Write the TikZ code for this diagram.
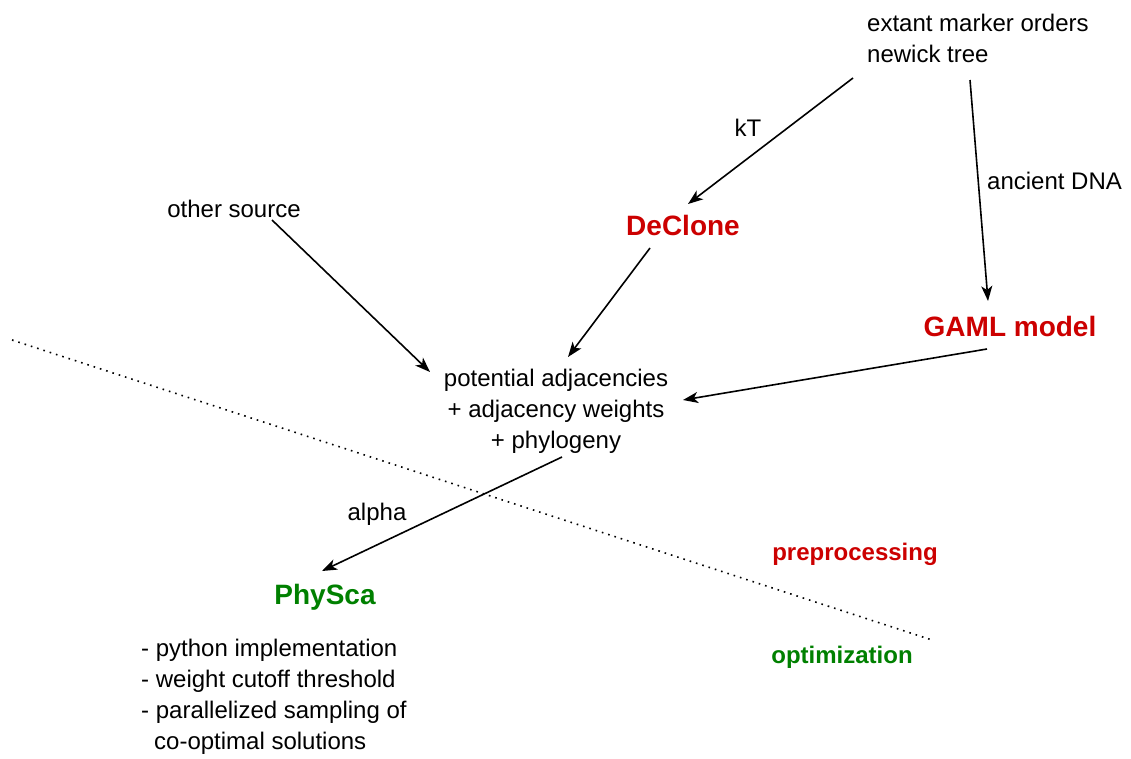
\documentclass[tikz,border=0pt]{standalone}
\usepackage{fontspec}
\setmainfont{Liberation Sans}
\usetikzlibrary{arrows.meta}
\definecolor{tred}{RGB}{204,0,0}
\definecolor{tgreen}{RGB}{0,128,0}
\begin{document}
\begin{tikzpicture}[x=1pt,y=-1pt,
  txt/.style={inner sep=0pt, font=\fontsize{24}{31}\selectfont},
  tool/.style={inner sep=0pt, font=\fontsize{28}{34}\selectfont\bfseries},
  phase/.style={inner sep=0pt, font=\fontsize{24}{30}\selectfont\bfseries},
  flow/.style={line width=1.6pt, -{Stealth[length=15pt,width=11pt,inset=4pt]}}]
\useasboundingbox (0,0) rectangle (1131,758);

% boundary between the two phases
\draw[line width=1.6pt, dash pattern=on 1.6pt off 5pt] (12,340) -- (932,640);

% input data
\node[txt, anchor=west, align=left] (input) at (867,38)
  {extant marker orders\\newick tree};
\node[txt] (other) at (234,209) {other source};

% preprocessing tools
\node[tool, text=tred] (declone) at (683,225) {DeClone};
\node[tool, text=tred] (gaml) at (1010,326) {GAML model};

% intermediate data
\node[txt, align=center] (adj) at (556,411)
  {potential adjacencies\\+ adjacency weights\\+ phylogeny};

% optimization tool
\node[tool, text=tgreen] (physca) at (325,597) {PhySca};
\node[txt, anchor=north west, align=left] (feat) at (141,639)
  {- python implementation\\- weight cutoff threshold\\- parallelized sampling of\\\hspace*{13pt}co-optimal solutions};

% phase labels
\node[phase, text=tred] (pre) at (855,554) {preprocessing};
\node[phase, text=tgreen] (opt) at (842,657) {optimization};

% connector end points around the nodes
\coordinate (inA) at (853,78);
\coordinate (inB) at (970,80);
\coordinate (dcin) at (688,204);
\coordinate (dcout) at (650,248);
\coordinate (gmin) at (988,301);
\coordinate (gmout) at (987,349);
\coordinate (osout) at (272,220);
\coordinate (adjA) at (430,372);
\coordinate (adjB) at (568,357);
\coordinate (adjC) at (683,400);
\coordinate (adjout) at (562,457);
\coordinate (phin) at (322,571);

% connectors
\draw[flow] (inA) -- (dcin);
\node[txt] (kt) at (748,128) {kT};
\draw[flow] (inB) -- (gmin);
\node[txt, anchor=west] (adna) at (987,181) {ancient DNA};
\draw[flow] (osout) -- (adjA);
\draw[flow] (dcout) -- (adjB);
\draw[flow] (gmout) -- (adjC);
\draw[flow] (adjout) -- (phin);
\node[txt] (alpha) at (377,514) {alpha};
\end{tikzpicture}
\end{document}
